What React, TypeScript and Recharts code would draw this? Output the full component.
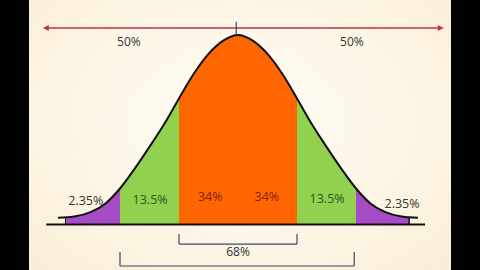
import { ComposedChart, Area, Line, XAxis, YAxis, ReferenceLine, ReferenceDot } from "recharts";

// positions in standard deviations from the mean, and curve height (peak = 100)
const sigma = [-3.05, -2.9, -2.75, -2.5, -2.25, -2, -1.75, -1.5, -1.25, -1, -0.75, -0.5, -0.25, 0, 0.25, 0.5, 0.75, 1, 1.25, 1.5, 1.75, 2, 2.25, 2.5, 2.75, 2.9, 3.05];
const height = [3.5, 3.8, 4.3, 6.5, 11, 19, 29.5, 41, 53, 66.5, 79.5, 90, 97, 100, 97, 90, 79.5, 66.5, 53, 41, 29.5, 19, 11, 6.5, 4.3, 3.8, 3.5];

// region edges and the share of each region
const cuts = [-2.9, -2, -1, 0, 1, 2, 2.9];
const shares = ["2.35%", "13.5%", "34%", "34%", "13.5%", "2.35%"];
const halves = ["50%", "50%"];
const inner = "68%";

const fills = ["#a54cc6", "#92d050", "#ff6600", "#ff6600", "#92d050", "#a54cc6"];
const inks = ["#333333", "#1f5a17", "#8e1c06", "#8e1c06", "#1f5a17", "#333333"];

const rows = sigma.map((s, i) => {
  const row: Record<string, number | null> = { s, h: height[i] };
  cuts.slice(0, -1).forEach((c, j) => {
    row["r" + j] = s >= c && s <= cuts[j + 1] ? height[i] : null;
  });
  return row;
});

const labelX = [-2.58, -1.49, -0.47, 0.49, 1.51, 2.78];
const labelY = [12.4, 13.2, 14.5, 14.5, 13.8, 11];

const arrowHead = (dir: number) => (p: any) => (
  <polygon
    points={`${p.cx + 4 * dir},${p.cy} ${p.cx - 2 * dir},${p.cy - 3} ${p.cx - 2 * dir},${p.cy + 3}`}
    fill="#c5303c"
  />
);

export default function App() {
  const navy = "#3a4868";
  return (
    <div style={{ position: "absolute", left: 0, top: 0, width: 480, height: 270, background: "#000", fontFamily: "'Open Sans', sans-serif" }}>
      <div
        style={{
          position: "absolute",
          left: 29,
          top: 0,
          width: 422,
          height: 270,
          background: "radial-gradient(ellipse at 50% 45%, #fffdf8 0%, #fdf6e6 55%, #f9eed6 100%)",
        }}
      />
      <div style={{ position: "absolute", left: 0, top: 0 }}>
        <ComposedChart width={480} height={270} data={rows} margin={{ top: 16, right: 35.5, bottom: 0, left: 31.5 }}>
          <XAxis type="number" dataKey="s" domain={[-3.5, 3.5]} hide allowDataOverflow />
          <YAxis type="number" domain={[-24, 110]} hide allowDataOverflow />
          {fills.map((f, j) => (
            <Area
              key={j}
              type="monotone"
              dataKey={"r" + j}
              baseValue={0}
              fill={f}
              fillOpacity={1}
              stroke="none"
              isAnimationActive={false}
            />
          ))}
          <Line type="monotone" dataKey="h" stroke="#111" strokeWidth={2} dot={false} isAnimationActive={false} />
          <ReferenceLine segment={[{ x: -3.25, y: 0 }, { x: 3.17, y: 0 }]} stroke="#111" strokeWidth={2} />
          <ReferenceLine segment={[{ x: -2.92, y: 0 }, { x: -2.92, y: 3.8 }]} stroke="#111" strokeWidth={1.5} />
          <ReferenceLine segment={[{ x: 2.9, y: 0 }, { x: 2.9, y: 3.8 }]} stroke="#111" strokeWidth={1.5} />

          <ReferenceLine segment={[{ x: -3.22, y: 103.7 }, { x: 3.4, y: 103.7 }]} stroke="#c5303c" strokeWidth={1.5} />
          <ReferenceDot x={-3.24} y={103.7} r={3} shape={arrowHead(-1)} />
          <ReferenceDot x={3.42} y={103.7} r={3} shape={arrowHead(1)} />
          <ReferenceLine segment={[{ x: -0.03, y: 100 }, { x: -0.03, y: 106.8 }]} stroke={navy} strokeWidth={1.2} />

          <ReferenceLine segment={[{ x: -1, y: -5 }, { x: -1, y: -10.3 }]} stroke={navy} strokeWidth={1.2} />
          <ReferenceLine segment={[{ x: -1, y: -10.3 }, { x: 1, y: -10.3 }]} stroke={navy} strokeWidth={1.2} />
          <ReferenceLine segment={[{ x: 1, y: -5 }, { x: 1, y: -10.3 }]} stroke={navy} strokeWidth={1.2} />
          <ReferenceLine segment={[{ x: -2, y: -14.5 }, { x: -2, y: -21.9 }]} stroke={navy} strokeWidth={1.2} />
          <ReferenceLine segment={[{ x: -2, y: -21.9 }, { x: 1.97, y: -21.9 }]} stroke={navy} strokeWidth={1.2} />
          <ReferenceLine segment={[{ x: 1.97, y: -14.5 }, { x: 1.97, y: -21.9 }]} stroke={navy} strokeWidth={1.2} />

          <ReferenceDot x={-1.85} y={96.6} r={0} fill="none" stroke="none" label={{ value: halves[0], position: "center", fill: "#333", fontSize: 12 }} />
          <ReferenceDot x={1.93} y={96.6} r={0} fill="none" stroke="none" label={{ value: halves[1], position: "center", fill: "#333", fontSize: 12 }} />
          {shares.map((t, j) => (
            <ReferenceDot
              key={"l" + j}
              x={labelX[j]}
              y={labelY[j]}
              r={0}
              fill="none"
              stroke="none"
              label={{ value: t, position: "center", fill: inks[j], fontSize: 12.5 }}
            />
          ))}
          <ReferenceDot x={0} y={-14.5} r={0} fill="none" stroke="none" label={{ value: inner, position: "center", fill: "#333", fontSize: 12 }} />
        </ComposedChart>
      </div>
    </div>
  );
}
